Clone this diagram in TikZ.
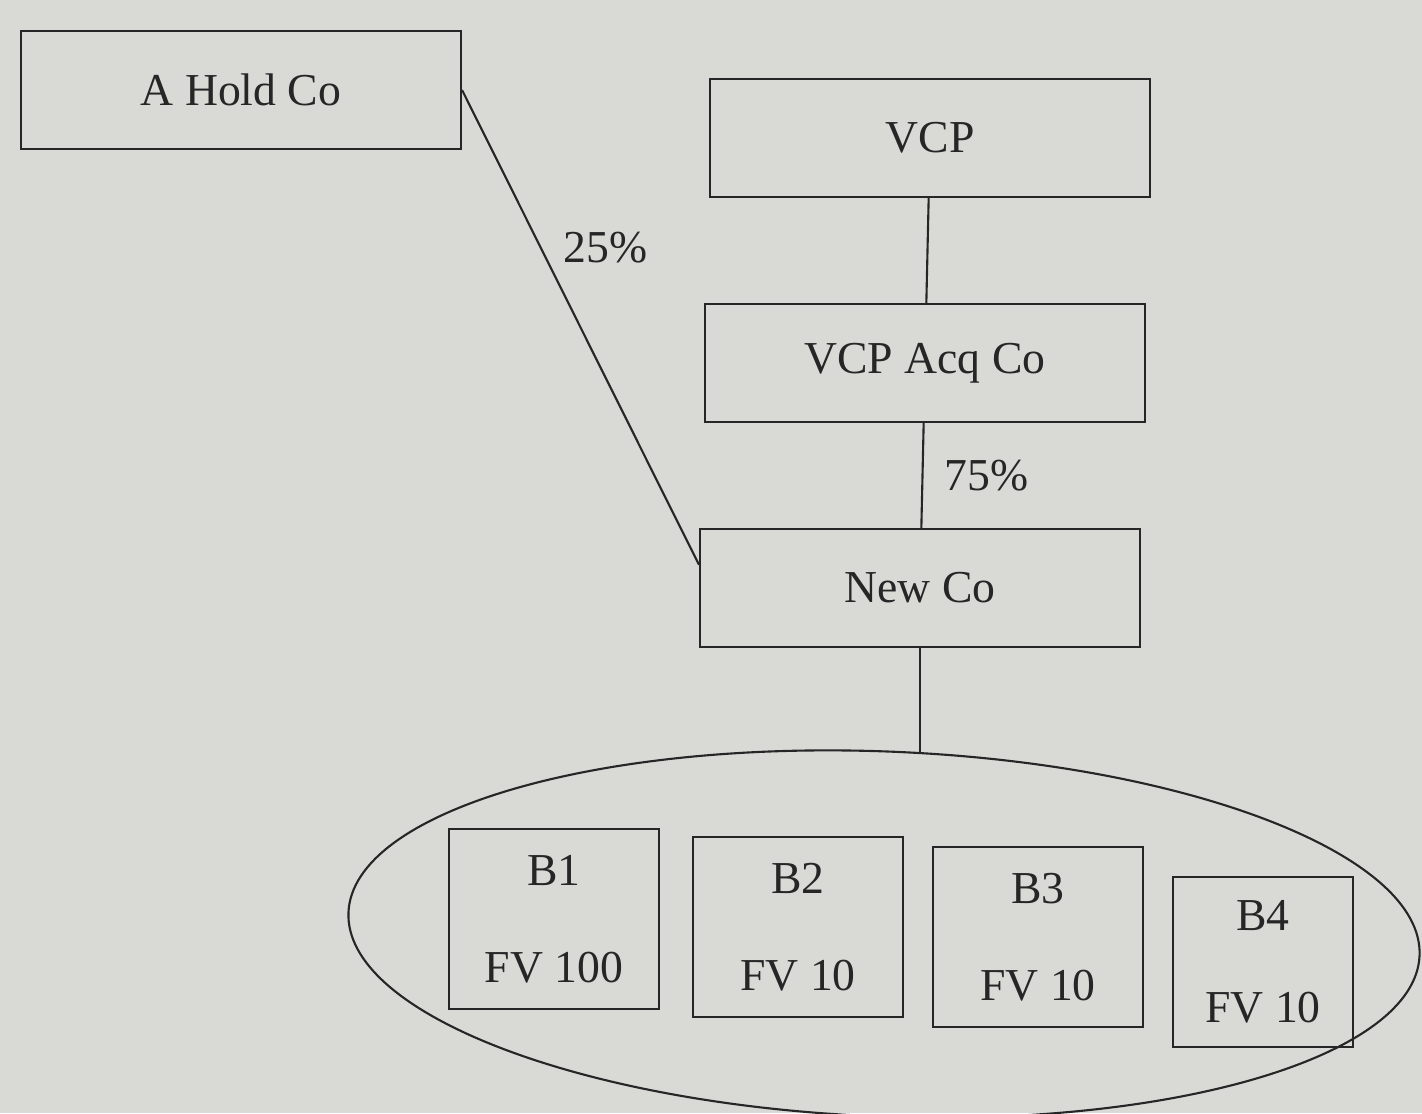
\documentclass[tikz,border=0pt]{standalone}
\usepackage{fontspec}
\setmainfont{Liberation Serif}
\usepackage{tikz}
\usetikzlibrary{shapes.geometric}
\definecolor{paper}{HTML}{D9D9D6}
\definecolor{ink}{HTML}{262626}

\begin{document}
\begin{tikzpicture}[-,auto,node distance=4.5cm,draw=ink,text=ink,line width=1.2pt,
        font=\fontsize{26}{31}\selectfont,
        co/.style={draw, rectangle, minimum width=8.8cm, minimum height=2.36cm},
        biz/.style={draw, rectangle, align=center, minimum width=4.2cm, minimum height=3.6cm, inner sep=2pt},
        group/.style={draw, ellipse, minimum width=21.44cm, minimum height=7.3cm, inner sep=0pt} ]

        \fill[paper] (0,0) rectangle (28.44,-22.26);
        \useasboundingbox (0,0) rectangle (28.44,-22.26);

        \node[group, rotate=-2.3] (grp) at (17.68,-18.68) {};

        \node[co] (ahold) at (4.82,-1.80) {A Hold Co};
        \node[co] (vcp) at (18.6,-2.76) {VCP};
        \node[co] (acq) [below of=vcp, xshift=-0.1cm] {VCP Acq Co};
        \node[co] (newco) [below of=acq, xshift=-0.1cm] {New Co};

        \node[biz] (b1) at (11.08,-18.38) {B1\\[0.85cm]FV 100};
        \node[biz] (b2) [right of=b1, node distance=4.88cm, yshift=-0.16cm] {B2\\[0.85cm]FV 10};
        \node[biz] (b3) [right of=b2, node distance=4.8cm, yshift=-0.2cm] {B3\\[0.85cm]FV 10};
        \node[biz, minimum width=3.6cm, minimum height=3.4cm] (b4) [right of=b3, node distance=4.5cm, yshift=-0.5cm] {B4\\[0.75cm]FV 10};

        \path (vcp) edge              (acq)
        (acq) edge              node[xshift=0.3cm] {75\%} (newco)
        (ahold.east) edge       node[pos=0.38, xshift=0.1cm] {25\%} (newco.174)
        (newco.south) edge      ([yshift=-1pt]newco.south |- grp.north);

    \end{tikzpicture}
\end{document}
